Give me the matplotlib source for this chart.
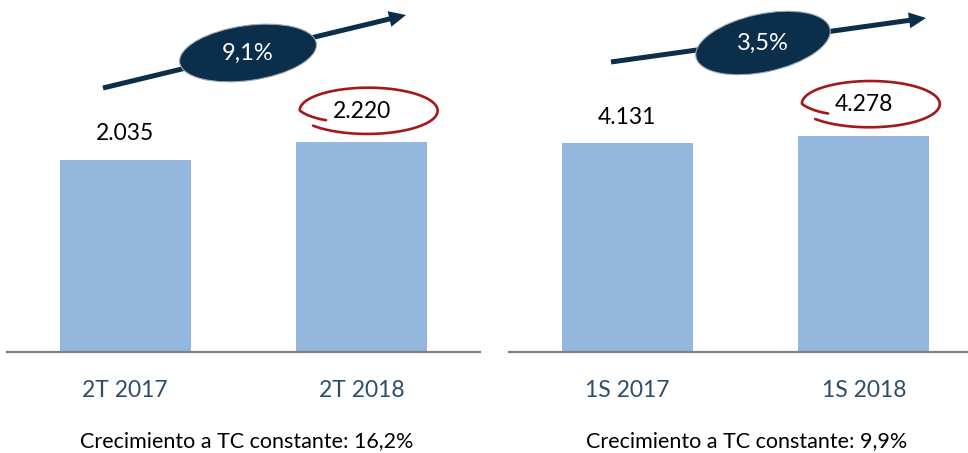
import numpy as np
import matplotlib
matplotlib.use('Agg')
import matplotlib.pyplot as plt
import matplotlib.patches as mpatches
import matplotlib.transforms as mtransforms

plt.rcParams['font.family'] = ['Lato', 'DejaVu Sans']

# data
periods_q = ['2T 2017', '2T 2018']
values_q = [2035, 2220]
periods_s = ['1S 2017', '1S 2018']
values_s = [4131, 4278]
growth = ['9,1%', '3,5%']
footnotes = ['Crecimiento a TC constante: 16,2%', 'Crecimiento a TC constante: 9,9%']

W, H = 968, 453
BAR = '#94B7DD'
NAVY = '#0B2E4B'
RED = '#A31818'
TICK = '#2E4D6B'
px = mtransforms.IdentityTransform()  # pixel coords, y up

fig = plt.figure(figsize=(W / 100, H / 100), dpi=100)


def fmt(v):
    return f'{v:,}'.replace(',', '.')


def red_loop(ax, x, y, off):
    # hand-drawn style open ellipse around the label
    t = np.radians(np.linspace(215, -140, 200))
    deg = np.degrees(t)
    r = np.where(deg > 180, 1 - 0.25 * (deg - 180) / 35, 1 + 0.05 * (180 - deg) / 320)
    cx, cy = 6, off
    xs = cx + 68 * r * np.cos(t)
    ys = cy + 22.5 * r * np.sin(t)
    tr = mtransforms.ScaledTranslation(x, y, ax.transData)
    ax.plot(xs, ys, color=RED, lw=1.9, transform=tr, clip_on=False,
            solid_capstyle='round')


panels = [
    (7, 480, periods_q, values_q, 3730, 1.5),
    (509, 968, periods_s, values_s, 6966, 1.44),
]

for k, (x0, x1, labels, vals, ymax, xmax) in enumerate(panels):
    ax = fig.add_axes([x0 / W, 101 / H, (x1 - x0) / W, 352 / H])
    xs = np.arange(len(vals))
    ax.bar(xs, vals, width=0.553, color=BAR, zorder=2)
    ax.set_xlim(-0.5, xmax)
    ax.set_ylim(0, ymax)
    for s in ['top', 'left', 'right']:
        ax.spines[s].set_visible(False)
    ax.spines['bottom'].set_color('#808080')
    ax.spines['bottom'].set_linewidth(1.6)
    ax.set_yticks([])
    ax.set_xticks(xs, labels, fontsize=16.5, color=TICK)
    ax.tick_params(axis='x', length=0, pad=20)
    for i, v in enumerate(vals):
        off = 26 if i == 0 else 31
        ax.annotate(fmt(v), (i, v), xytext=(0, off), textcoords='offset pixels',
                    ha='center', va='center', fontsize=16.5, color='black')
    red_loop(ax, len(vals) - 1, vals[-1], 31 + 1)

# growth arrows with ellipse labels (pixel coords, image y measured from top)
arrows = [((103, 88), (406, 15), (248, 53), 138, 55, 8),
          ((611, 62), (926, 18), (763, 43), 137, 58, 12)]
for (a, b, c, ew, eh, ang), g in zip(arrows, growth):
    ax0, ay0 = a[0], H - a[1]
    dx, dy = b[0] - a[0], -(b[1] - a[1])
    fig.add_artist(mpatches.FancyArrow(ax0, ay0, dx, dy, width=5, head_width=16,
                                       head_length=17, length_includes_head=True,
                                       color=NAVY, lw=0, transform=px))
    fig.add_artist(mpatches.Ellipse((c[0], H - c[1]), ew, eh, angle=ang,
                                    facecolor=NAVY, edgecolor='#9AAABB', lw=0.8,
                                    transform=px))
    fig.text(c[0] / W, 1 - c[1] / H, g, ha='center', va='center',
             fontsize=17, color='white')

fig.text(247 / W, 1 - 441 / H, footnotes[0], ha='center', va='center', fontsize=15.5)
fig.text(747 / W, 1 - 441 / H, footnotes[1], ha='center', va='center', fontsize=15.5)

fig.savefig('out.png', dpi=100)
